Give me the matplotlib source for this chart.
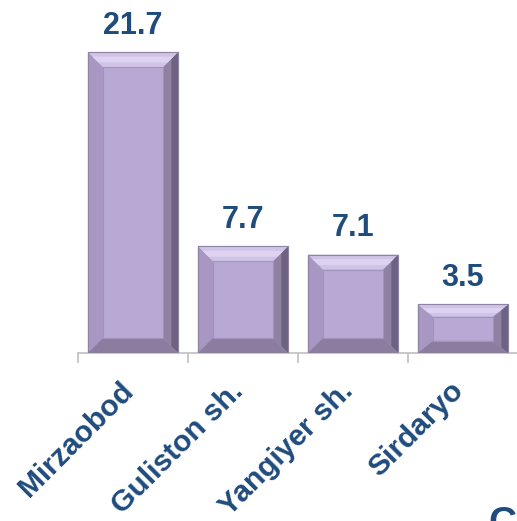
import matplotlib
matplotlib.use('Agg')
import matplotlib.pyplot as plt
from matplotlib.patches import Polygon
from matplotlib.transforms import ScaledTranslation

plt.rcParams['font.family'] = ['Liberation Sans', 'DejaVu Sans']

# data
districts = ['Mirzaobod', 'Guliston sh.', 'Yangiyer sh.', 'Sirdaryo']
values = [21.7, 7.7, 7.1, 3.5]

text_col = '#1f4b7d'
face_col = '#b8a9d4'

fig = plt.figure(figsize=(5.17, 5.21), dpi=100)
W, H = 517, 521
ax = fig.add_axes([78 / W, (H - 353) / H, 440 / W, 353 / H])

x = range(len(values))
bars = ax.bar(x, values, width=0.82, color=face_col, edgecolor='#8f84a3',
              linewidth=0.8, zorder=2)
ax.set_xlim(-0.5, len(values) - 0.5)
ax.set_ylim(0, 25.45)

# bevel sizes in data units from pixel sizes
px_x = (ax.get_xlim()[1] - ax.get_xlim()[0]) / 440
px_y = (ax.get_ylim()[1] - ax.get_ylim()[0]) / 353

for b in bars:
    x0 = b.get_x()
    x1 = x0 + b.get_width()
    y0 = 0
    y1 = b.get_height()
    bx = 15 * px_x
    by = min(15 * px_y, 0.25 * y1)
    top = [(x0, y1), (x1, y1), (x1 - bx, y1 - by), (x0 + bx, y1 - by)]
    top2 = [(x0 + bx * 0.3, y1 - by * 0.3), (x1 - bx * 0.3, y1 - by * 0.3),
            (x1 - bx * 0.7, y1 - by * 0.7), (x0 + bx * 0.7, y1 - by * 0.7)]
    left = [(x0, y0), (x0, y1), (x0 + bx, y1 - by), (x0 + bx, y0 + by)]
    right = [(x1, y0), (x1, y1), (x1 - bx, y1 - by), (x1 - bx, y0 + by)]
    right2 = [(x1, y0), (x1, y1), (x1 - bx * 0.45, y1 - by * 0.45),
              (x1 - bx * 0.45, y0 + by * 0.45)]
    bottom = [(x0, y0), (x1, y0), (x1 - bx, y0 + by), (x0 + bx, y0 + by)]
    for pts, c in [(left, '#a797c2'), (right, '#8e81a2'), (right2, '#6e6282'),
                   (top, '#cfc3e6'), (top2, '#ddd3f0'), (bottom, '#8a7da0')]:
        ax.add_patch(Polygon(pts, closed=True, facecolor=c, edgecolor='none',
                             zorder=3))
    # inner face outline
    ax.add_patch(Polygon([(x0 + bx, y0 + by), (x0 + bx, y1 - by),
                          (x1 - bx, y1 - by), (x1 - bx, y0 + by)],
                         closed=True, facecolor='none', edgecolor='#a293bb',
                         linewidth=0.8, zorder=4))
    ax.add_patch(Polygon([(x0, y0), (x0, y1), (x1, y1), (x1, y0)], closed=True,
                         facecolor='none', edgecolor='#8f84a3', linewidth=0.8,
                         zorder=5))

ax.bar_label(bars, labels=[f'{v:.1f}' for v in values], padding=8,
             fontsize=22, fontweight='bold', color=text_col)

for s in ['top', 'left', 'right']:
    ax.spines[s].set_visible(False)
ax.spines['bottom'].set_color('#c4c4c4')
ax.spines['bottom'].set_linewidth(1.3)
ax.set_yticks([])

ax.set_xticks(list(x))
ax.set_xticklabels(districts, rotation=45, ha='right', fontsize=21.5,
                   fontweight='bold', color=text_col)
ax.tick_params(axis='x', which='major', length=0, pad=17)
ax.set_xticks([i - 0.5 for i in range(len(values) + 1)], minor=True)
ax.tick_params(axis='x', which='minor', length=7, width=1.3, color='#c4c4c4')
off = ScaledTranslation(6 / 100, 0, fig.dpi_scale_trans)
for lab in ax.get_xticklabels():
    lab.set_transform(lab.get_transform() + off)

# partial letter cut at the lower right corner, as in the source image
fig.text(488 / W, 1 - 506 / H, 'C', fontsize=28, fontweight='bold',
         color=text_col, ha='left', va='top')

fig.savefig('out.png', dpi=100)
